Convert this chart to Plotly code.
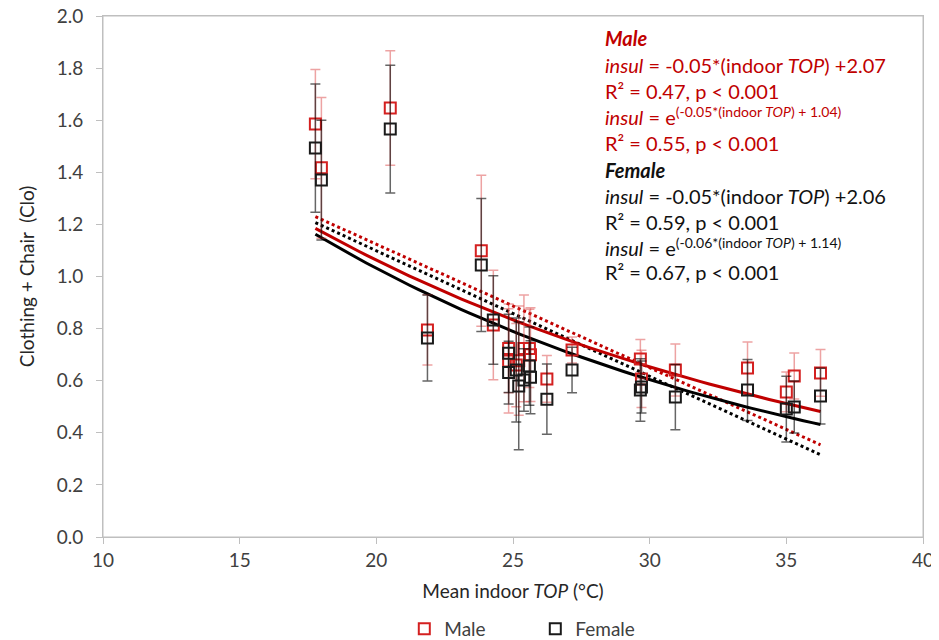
import numpy as np
import plotly.graph_objects as go

# ---- data ----
top_c = [17.77, 17.99, 20.51, 21.87, 23.84, 24.28, 24.84, 24.84, 25.12, 25.21,
         25.40, 25.60, 25.64, 26.24, 27.16, 29.66, 29.70, 30.94, 33.58, 35.00,
         35.29, 36.25]
male_clo = [1.585, 1.417, 1.647, 0.795, 1.099, 0.814, 0.724, 0.676, 0.660, 0.677,
            0.724, 0.724, 0.700, 0.607, 0.718, 0.683, 0.607, 0.641, 0.649, 0.557,
            0.618, 0.630]
male_sd = [0.21, 0.27, 0.22, 0.135, 0.29, 0.21, 0.17, 0.20, 0.16, 0.21,
           0.205, 0.15, 0.18, 0.09, 0.05, 0.075, 0.11, 0.10, 0.10, 0.076,
           0.088, 0.09]
female_clo = [1.493, 1.370, 1.566, 0.764, 1.044, 0.833, 0.705, 0.631, 0.641, 0.580,
              0.603, 0.656, 0.613, 0.529, 0.641, 0.564, 0.576, 0.537, 0.564, 0.491,
              0.499, 0.541]
female_sd = [0.246, 0.23, 0.245, 0.165, 0.255, 0.17, 0.15, 0.12, 0.20, 0.245,
             0.12, 0.15, 0.14, 0.135, 0.087, 0.12, 0.10, 0.125, 0.117, 0.126,
             0.10, 0.107]

# fitted trend coefficients (as plotted)
male_lin = (-0.0474, 2.072)
female_lin = (-0.0482, 2.063)
male_exp = (-0.0487, 1.035)
female_exp = (-0.0536, 1.103)

x_ticks = [10, 15, 20, 25, 30, 35, 40]
y_ticks = [0.0, 0.2, 0.4, 0.6, 0.8, 1.0, 1.2, 1.4, 1.6, 1.8, 2.0]

RED = "#c00000"
BLACK = "#000000"
FONT = "Lato"
GREY_TXT = "#404040"
AXIS_GREY = "#bfbfbf"

# page has an 8px body margin; figure sized to fill the rest of the window
OFF = 8
FW, FH = 939 - OFF, 640 - OFF
# plot area in window pixels
PL, PR, PT, PB = 102.7, 922.7, 16, 537
PW, PH = PR - PL, PB - PT

xs = np.linspace(min(top_c), max(top_c), 60)

fig = go.Figure()

# trendlines
fig.add_trace(go.Scatter(x=xs, y=male_lin[0] * xs + male_lin[1], mode="lines",
                         line=dict(color=RED, width=3, dash="dot"), showlegend=False, hoverinfo="skip"))
fig.add_trace(go.Scatter(x=xs, y=female_lin[0] * xs + female_lin[1], mode="lines",
                         line=dict(color=BLACK, width=3, dash="dot"), showlegend=False, hoverinfo="skip"))
fig.add_trace(go.Scatter(x=xs, y=np.exp(male_exp[0] * xs + male_exp[1]), mode="lines",
                         line=dict(color=RED, width=3), showlegend=False, hoverinfo="skip"))
fig.add_trace(go.Scatter(x=xs, y=np.exp(female_exp[0] * xs + female_exp[1]), mode="lines",
                         line=dict(color=BLACK, width=3), showlegend=False, hoverinfo="skip"))

# data points
fig.add_trace(go.Scatter(
    x=top_c, y=male_clo, mode="markers", name="Male",
    marker=dict(symbol="square-open", size=11, color="#d42020", line=dict(width=2)),
    error_y=dict(type="data", array=male_sd, visible=True, color="rgba(215,50,50,0.45)",
                 thickness=1.5, width=5)))
fig.add_trace(go.Scatter(
    x=top_c, y=female_clo, mode="markers", name="Female",
    marker=dict(symbol="square-open", size=11, color="#1a1a1a", line=dict(width=2)),
    error_y=dict(type="data", array=female_sd, visible=True, color="rgba(0,0,0,0.6)",
                 thickness=1.5, width=5)))

# equation annotations (positions in window pixels)
lines = [
    ("<b><i>Male</i></b>", RED, 38),
    ("<i>insul</i> = -0.05*(indoor <i>TOP</i>) +2.07", RED, 65),
    ("R² = 0.47, p < 0.001", RED, 91),
    ("<i>insul</i> = e<sup>(-0.05*(indoor <i>TOP</i>) + 1.04)</sup>", RED, 116),
    ("R² = 0.55, p < 0.001", RED, 143),
    ("<b><i>Female</i></b>", "#111111", 170),
    ("<i>insul</i> = -0.05*(indoor <i>TOP</i>) +2.06", "#111111", 196),
    ("R² = 0.59, p < 0.001", "#111111", 222),
    ("<i>insul</i> = e<sup>(-0.06*(indoor <i>TOP</i>) + 1.14)</sup>", "#111111", 247),
    ("R² = 0.67, p < 0.001", "#111111", 272),
]
for txt, col, ypix in lines:
    fig.add_annotation(text=txt, xref="paper", yref="paper",
                       x=(603 - PL) / PW, y=(PB - ypix) / PH,
                       xanchor="left", yanchor="middle", showarrow=False,
                       font=dict(family=FONT, size=20, color=col))

# plot-area border
fig.add_shape(type="rect", xref="paper", yref="paper", x0=0, x1=1, y0=0, y1=1,
              line=dict(color=AXIS_GREY, width=1), layer="below")

axis_common = dict(showline=True, linecolor=AXIS_GREY, linewidth=1, mirror=True,
                   showgrid=False, zeroline=False, ticks="outside", ticklen=6,
                   tickcolor=AXIS_GREY, automargin=False, ticklabeloverflow="allow",
                   tickfont=dict(family=FONT, size=19, color=GREY_TXT))

fig.update_layout(
    width=FW, height=FH,
    margin=dict(l=PL - OFF, r=939 - PR, t=PT - OFF, b=640 - PB, autoexpand=False),
    paper_bgcolor="white", plot_bgcolor="white",
    font=dict(family=FONT, color=GREY_TXT),
    xaxis=dict(range=[10, 40], tickvals=x_ticks, ticktext=[str(v) for v in x_ticks],
               title=dict(text="Mean indoor <i>TOP</i> (°C)", font=dict(family=FONT, size=19, color="#262626"),
                          standoff=14),
               **axis_common),
    yaxis=dict(range=[0, 2.0], tickvals=y_ticks, ticktext=[f"{v:.1f}" for v in y_ticks],
               ticklabelstandoff=9,
               title=dict(text="Clothing + Chair  (Clo)", font=dict(family=FONT, size=19, color="#262626"),
                          standoff=17),
               **axis_common),
    legend=dict(orientation="h", x=(404 - PL) / PW, xanchor="left",
                y=(PB - 629) / PH, yanchor="middle",
                font=dict(family=FONT, size=19, color=GREY_TXT), entrywidth=86, itemwidth=30),
)

fig.write_html("out.html")
